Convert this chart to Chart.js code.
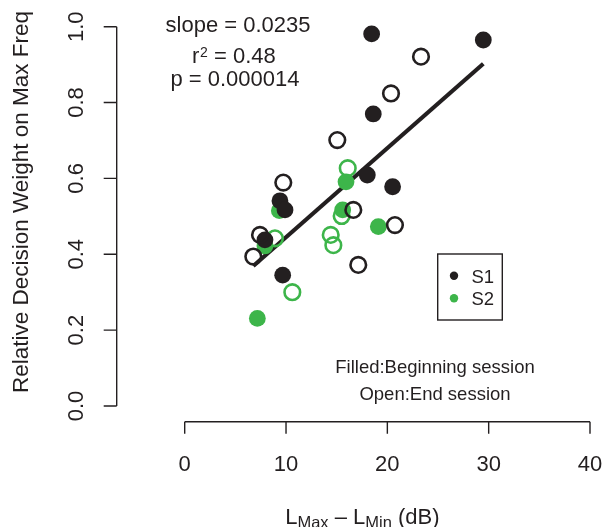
<!DOCTYPE html>
<html>
<head>
<meta charset="utf-8">
<script src="https://cdn.jsdelivr.net/npm/chart.js@4.4.1/dist/chart.umd.min.js"></script>
<style>
  html, body { margin: 0; padding: 0; background: #fff; }
  #wrap { width: 608px; height: 527px; position: relative; }
</style>
</head>
<body>
<div id="wrap"><canvas id="myChart"></canvas></div>
<script>
// data: x = LMax - LMin (dB), y = relative decision weight
const s1BeginX = [18.45, 29.47, 18.61, 18.02, 20.52, 9.40, 9.90, 7.92, 9.67];
const s1BeginY = [0.981, 0.965, 0.770, 0.609, 0.578, 0.541, 0.517, 0.438, 0.345];
const s1EndX = [23.32, 20.36, 15.06, 16.64, 20.75, 17.13, 9.73, 7.43, 6.77];
const s1EndY = [0.921, 0.824, 0.701, 0.517, 0.477, 0.372, 0.589, 0.451, 0.394];
const s2BeginX = [15.92, 15.59, 19.11, 9.34, 7.92, 7.17];
const s2BeginY = [0.591, 0.517, 0.473, 0.515, 0.422, 0.231];
const s2EndX = [16.09, 15.49, 14.41, 14.67, 8.91, 10.62];
const s2EndY = [0.627, 0.501, 0.451, 0.424, 0.442, 0.300];

const fitSlope = 0.0235;
const fitIntercept = 0.2099;

const xTicks = [0, 10, 20, 30, 40];
const yTicks = [0, 0.2, 0.4, 0.6, 0.8, 1.0];
const statLines = ['slope = 0.0235', '0.48', 'p = 0.000014'];
const legendLabels = ['S1', 'S2'];
const noteLines = ['Filled:Beginning session', 'Open:End session'];

const BLACK = '#231f20';
const GREEN = '#3db54a';
const FONT = '"Liberation Sans", Arial, Helvetica, sans-serif';

const pts = (xs, ys) => xs.map((x, i) => ({ x: x, y: ys[i] }));

// regression line spans the range of the data
const allX = s1BeginX.concat(s1EndX, s2BeginX, s2EndX);
const xLo = Math.min(...allX), xHi = Math.max(...allX);
const fitLine = [
  { x: xLo, y: fitIntercept + fitSlope * xLo },
  { x: xHi, y: fitIntercept + fitSlope * xHi }
];

// R style detached axes, stats text and legend
const rAxes = {
  id: 'rAxes',
  afterDraw(chart) {
    const ctx = chart.ctx;
    const xs = chart.scales.x, ys = chart.scales.y;
    const axisY = ys.getPixelForValue(0) + 15.7;
    const axisX = xs.getPixelForValue(0) - 68;
    ctx.save();
    ctx.strokeStyle = BLACK;
    ctx.fillStyle = BLACK;
    ctx.lineWidth = 1.4;

    // x axis
    ctx.beginPath();
    ctx.moveTo(xs.getPixelForValue(xTicks[0]), axisY);
    ctx.lineTo(xs.getPixelForValue(xTicks[xTicks.length - 1]), axisY);
    xTicks.forEach(t => {
      const px = xs.getPixelForValue(t);
      ctx.moveTo(px, axisY);
      ctx.lineTo(px, axisY + 12);
    });
    ctx.stroke();
    ctx.font = '22px ' + FONT;
    ctx.textAlign = 'center';
    ctx.textBaseline = 'alphabetic';
    xTicks.forEach(t => ctx.fillText(String(t), xs.getPixelForValue(t), 471));

    // y axis
    ctx.beginPath();
    ctx.moveTo(axisX, ys.getPixelForValue(yTicks[0]));
    ctx.lineTo(axisX, ys.getPixelForValue(yTicks[yTicks.length - 1]));
    yTicks.forEach(t => {
      const py = ys.getPixelForValue(t);
      ctx.moveTo(axisX, py);
      ctx.lineTo(axisX - 13, py);
    });
    ctx.stroke();
    yTicks.forEach(t => {
      ctx.save();
      ctx.translate(83, ys.getPixelForValue(t));
      ctx.rotate(-Math.PI / 2);
      ctx.fillText(t.toFixed(1), 0, 0);
      ctx.restore();
    });

    // y title
    ctx.save();
    ctx.translate(28, 202);
    ctx.rotate(-Math.PI / 2);
    ctx.font = '22.5px ' + FONT;
    ctx.fillText('Relative Decision Weight on Max Freq', 0, 0);
    ctx.restore();

    // x title with subscripts
    const big = '22px ' + FONT, small = '16.5px ' + FONT;
    const parts = [
      ['L', big, 0], ['Max', small, 4], [' \u2013 ', big, 0],
      ['L', big, 0], ['Min', small, 4], [' (dB)', big, 0]
    ];
    let total = 0;
    parts.forEach(p => { ctx.font = p[1]; total += ctx.measureText(p[0]).width; });
    let cx = (chart.width + axisX) / 2 - total / 2;
    ctx.textAlign = 'left';
    parts.forEach(p => {
      ctx.font = p[1];
      ctx.fillText(p[0], cx, 524 + p[2]);
      cx += ctx.measureText(p[0]).width;
    });

    // stats text
    ctx.font = '22px ' + FONT;
    ctx.textAlign = 'center';
    ctx.fillText(statLines[0], 238, 32);
    ctx.fillText(statLines[2], 235, 86);
    ctx.textAlign = 'left';
    ctx.fillText('r', 192, 63);
    ctx.font = '14px ' + FONT;
    ctx.fillText('2', 200, 57);
    ctx.font = '22px ' + FONT;
    ctx.fillText('= ' + statLines[1], 214, 63);

    // legend box
    ctx.lineWidth = 1.4;
    ctx.strokeRect(437.7, 254, 64.6, 66);
    [BLACK, GREEN].forEach((c, i) => {
      const ly = 275.7 + i * 22.6;
      ctx.fillStyle = c;
      ctx.beginPath();
      ctx.arc(454, ly, 4.2, 0, Math.PI * 2);
      ctx.fill();
      ctx.fillStyle = BLACK;
      ctx.font = '18.5px ' + FONT;
      ctx.textAlign = 'left';
      ctx.fillText(legendLabels[i], 471.5, ly + 7);
    });

    // session note
    ctx.font = '18.5px ' + FONT;
    ctx.textAlign = 'center';
    ctx.fillText(noteLines[0], 435, 373);
    ctx.fillText(noteLines[1], 435, 400);
    ctx.restore();
  }
};

const dot = (data, color, filled) => ({
  type: 'scatter',
  data: data,
  pointRadius: filled ? 8.4 : 7.8,
  pointHoverRadius: filled ? 8.4 : 7.8,
  pointBackgroundColor: filled ? color : 'rgba(0,0,0,0)',
  pointBorderColor: color,
  pointBorderWidth: filled ? 0 : 2.6
});

new Chart(document.getElementById('myChart'), {
  type: 'scatter',
  data: {
    datasets: [
      dot(pts(s1EndX, s1EndY), BLACK, false),
      dot(pts(s1BeginX, s1BeginY), BLACK, true),
      dot(pts(s2EndX, s2EndY), GREEN, false),
      dot(pts(s2BeginX, s2BeginY), GREEN, true),
      {
        type: 'line',
        data: fitLine,
        borderColor: BLACK,
        borderWidth: 4.2,
        pointRadius: 0,
        fill: false
      }
    ]
  },
  options: {
    responsive: true,
    maintainAspectRatio: false,
    animation: false,
    clip: false,
    layout: { padding: { left: 184.7, right: 18, top: 26.7, bottom: 121 } },
    scales: {
      x: { type: 'linear', min: 0, max: 40, display: false },
      y: { type: 'linear', min: 0, max: 1, display: false }
    },
    plugins: {
      legend: { display: false },
      tooltip: { enabled: false }
    }
  },
  plugins: [rAxes]
});
</script>
</body>
</html>
